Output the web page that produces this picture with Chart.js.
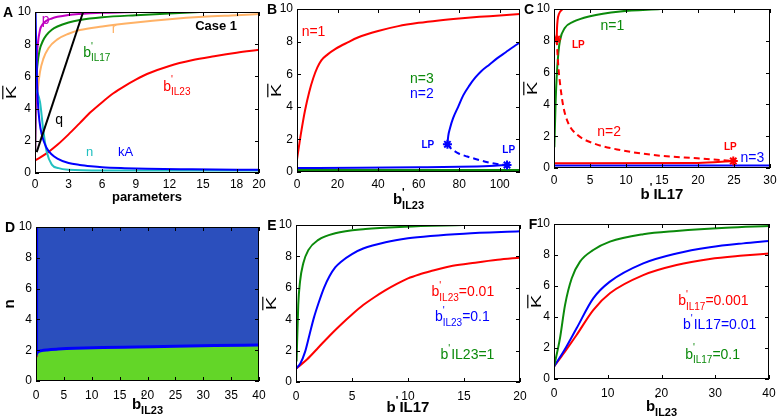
<!DOCTYPE html>
<html>
<head>
<meta charset="utf-8">
<script src="https://cdn.jsdelivr.net/npm/chart.js@4.4.1/dist/chart.umd.min.js"></script>
<style>
html, body { margin: 0; padding: 0; background: #fff; }
#wrap { position: relative; width: 777px; height: 418px; overflow: hidden; }
#wrap canvas { position: absolute; }
</style>
</head>
<body>
<div id="wrap"></div>
<script>
// ---- data: [x, y] pairs ----
var yTicks = [0, 2, 4, 6, 8, 10];

// A: K vs parameters
var aTicksX = [0, 3, 6, 9, 12, 15, 18, 20];
var aP = [[0.02,1.3],[0.05,3],[0.1,5.5],[0.15,7],[0.25,8],[0.45,8.9],[0.7,9.25],[1,9.45],[1.5,9.6],[2,9.7],[3,9.82],[4,9.88],[6,9.95],[8,9.98],[9.5,10]];
var aBIL17 = [[0.02,1.3],[0.05,3.5],[0.1,5.5],[0.2,6.6],[0.4,7.6],[0.7,8.2],[1,8.55],[1.5,8.9],[2,9.1],[3,9.35],[4,9.5],[6,9.67],[9,9.8],[12,9.9],[14.7,10]];
var aR = [[0.15,4],[0.25,5.2],[0.45,6.3],[0.75,7.1],[1.2,7.75],[2,8.3],[3,8.65],[4,8.88],[6,9.1],[9,9.35],[12,9.55],[15,9.7],[18,9.8],[20,9.87]];
var aBIL23 = [[0,0.78],[1,1.2],[2,1.75],[3,2.4],[4,3.1],[5,3.8],[6,4.4],[7,4.95],[8,5.4],[9,5.8],[10,6.15],[12,6.65],[14,7.0],[16,7.25],[18,7.47],[20,7.65]];
var aQ = [[0.15,1.3],[4.3,10]];
var aN = [[0,5.2],[0.2,5.0],[0.45,4.4],[0.75,2.6],[1.05,1.3],[1.5,0.52],[2.1,0.3],[3,0.2],[6,0.15],[20,0.15]];
var aKA = [[0.05,10],[0.1,8],[0.15,6.5],[0.25,4.5],[0.4,3.2],[0.6,2.4],[1,1.6],[1.5,1.15],[2,0.9],[3,0.62],[4,0.5],[5,0.42],[6,0.36],[8,0.3],[10,0.26],[14,0.23],[20,0.2]];

// B: K vs b'IL23
var bTicksX = [0, 20, 40, 60, 80, 100];
var bN1 = [[0,0.78],[1,1.6],[2,2.4],[4,3.8],[6,4.9],[8,5.75],[10,6.4],[12,6.85],[15,7.2],[19,7.55],[25,7.95],[30,8.25],[40,8.65],[50,8.95],[60,9.15],[70,9.3],[80,9.42],[90,9.52],[100,9.6],[110,9.7]];
var bN2Low = [[0,0.25],[30,0.26],[60,0.29],[80,0.32],[95,0.37],[103.6,0.43]];
var bN2Dash = [[74.2,1.7],[75.5,1.5],[77.5,1.3],[80,1.12],[84,0.95],[88,0.8],[94,0.6],[98,0.5],[103.6,0.43]];
var bN2Up = [[74.2,1.7],[74.6,2.2],[75.5,2.7],[77,3.3],[79.5,4.0],[82,4.7],[85,5.3],[88,5.8],[91,6.2],[95,6.6],[99,7.0],[103,7.35],[107,7.7],[110,7.95]];
var bN3 = [[0,0.12],[110,0.12]];
var bLP = [[74.2,1.7],[103.6,0.43]];

// C: K vs b'IL17
var cTicksX = [0, 5, 10, 15, 20, 25, 30];
var cN1 = [[0.05,1.3],[0.23,4.2],[0.37,5.7],[0.6,7.2],[0.84,8.05],[1.5,8.8],[2.7,9.2],[5,9.55],[9.2,9.85],[14.8,10]];
var cN2Up = [[0.37,8.1],[0.42,8.8],[0.5,9.3],[0.7,9.7],[1.2,10]];
var cN2Dash = [[0.37,8.1],[0.6,6.4],[0.84,5.3],[1.3,3.86],[2,2.8],[3.2,2.1],[5.5,1.55],[9.2,1.13],[14.8,0.77],[19.9,0.61],[24.9,0.44]];
var cN2Low = [[0,0.3],[20,0.32],[24.9,0.44]];
var cN3 = [[0,0.15],[30,0.15]];
var cLP = [[0.37,8.1],[24.9,0.44]];

// D: n vs b'IL23 (two regions)
var dTicksX = [0, 5, 10, 15, 20, 25, 30, 35, 40];
var dBoundary = [[0,1.6],[0.15,1.8],[0.4,1.9],[1,1.97],[2,2.02],[4,2.07],[7,2.12],[12,2.17],[18,2.21],[25,2.26],[32,2.3],[40,2.33]];
var dVertical = [[0.1,1.75],[0.1,10]];
var dTop = [[0,10],[40,10]];
var dCusp = [[0,1.6]];

// E: K vs b'IL17
var eTicksX = [0, 5, 10, 15, 20];
var eG = [[0.05,1.3],[0.2,4.9],[0.36,6.4],[0.65,7.56],[1.1,8.4],[2,9.05],[3.5,9.47],[6.2,9.74],[9.7,9.89],[14.9,10]];
var eB = [[0,0.85],[0.4,1.2],[0.8,1.9],[1.2,3.0],[1.6,4.1],[2,5.0],[2.5,6.0],[3,6.75],[3.5,7.3],[4,7.65],[5,8.15],[6,8.5],[8,8.9],[10,9.15],[12,9.3],[15,9.45],[20,9.6]];
var eR = [[0,0.85],[1,1.45],[2,2.2],[3,2.95],[4,3.65],[5,4.3],[6,4.9],[7,5.4],[8,5.85],[9,6.25],[10,6.6],[11,6.85],[12,7.05],[14,7.4],[16,7.6],[18,7.78],[20,7.92]];

// F: K vs b'IL23
var fTicksX = [0, 10, 20, 30, 40];
var fG = [[0,0.8],[1.1,2.6],[2.05,4.77],[3.3,6.5],[4.84,7.57],[7.3,8.32],[10.4,8.86],[16.6,9.34],[22.8,9.55],[32,9.76],[40,9.87]];
var fB = [[0,0.8],[2,1.9],[4.2,3.27],[7.3,5.2],[10.4,6.28],[16.6,7.46],[22.8,8.1],[29,8.5],[35.2,8.75],[40,8.9]];
var fR = [[0,0.8],[2,1.75],[4.2,2.84],[7.3,4.45],[10.4,5.53],[16.6,6.7],[22.8,7.35],[29,7.74],[35.2,7.96],[40,8.1]];

// ---- styling ----
var FONT = '"Liberation Sans", Arial, Helvetica, sans-serif';
var RED = '#ff0000', BLUE = '#0000ff', GREEN = '#0b8a0b', MAGENTA = '#c000c0',
    ORANGE = '#ffb266', CYAN = '#22c0c0', BLACK = '#000000',
    FILL_BLUE = '#2b4fbd', FILL_GREEN = '#63d628';

// text pieces: b' with stacked sub, or b' followed by plain text
function bSub(sub, rest) {
  var s = [['b', 'n'], ["'", 'pre'], [sub, 'sub']];
  if (rest) s.push([rest, 'n']);
  return s;
}
function bFlat(txt) { return [['b', 'n'], ["'", 'sup'], [txt, 'n']]; }
function plain(t) { return [[t, 'n']]; }

function drawRich(ctx, x, y, segs, size, bold, color, align) {
  var small = Math.round(size * 0.72);
  var f = function (s) { return (bold ? 'bold ' : '') + s + 'px ' + FONT; };
  var items = [], cx = 0;
  segs.forEach(function (sg) {
    var t = sg[0], m = sg[1];
    var s = m === 'n' ? size : small;
    ctx.font = f(s);
    var w = ctx.measureText(t).width;
    var dy = m === 'sub' ? size * 0.4 : (m === 'n' ? 0 : -size * 0.45);
    items.push({ t: t, s: s, x: cx, dy: dy });
    if (m === 'sup') cx += w + 1;
    else if (m !== 'pre') cx += w;
  });
  var x0 = align === 'center' ? x - cx / 2 : x;
  ctx.save();
  ctx.fillStyle = color;
  ctx.textBaseline = 'middle';
  ctx.textAlign = 'left';
  items.forEach(function (it) {
    ctx.font = f(it.s);
    ctx.fillText(it.t, x0 + it.x, y + it.dy);
  });
  ctx.restore();
}

function drawKbar(ctx, x, y) {
  ctx.save();
  ctx.translate(x, y);
  ctx.rotate(-Math.PI / 2);
  ctx.scale(1.45, 1);
  ctx.font = '14px ' + FONT;
  ctx.fillStyle = '#000';
  ctx.textAlign = 'center';
  ctx.textBaseline = 'alphabetic';
  var w = ctx.measureText('K').width;
  ctx.fillText('K', 0, 5);
  ctx.fillRect(-w / 2, -8.8, w, 1.2);
  ctx.restore();
}

var decor = {
  id: 'decor',
  afterDraw: function (chart, args, o) {
    var ctx = chart.ctx, a = chart.chartArea, xs = chart.scales.x, ys = chart.scales.y;
    ctx.save();
    ctx.strokeStyle = '#000';
    ctx.lineWidth = 1;
    ctx.strokeRect(a.left + 0.5, a.top + 0.5, a.right - a.left - 1, a.bottom - a.top - 1);
    ctx.beginPath();
    xs.ticks.forEach(function (t) {
      var px = Math.round(xs.getPixelForValue(t.value)) + 0.5;
      ctx.moveTo(px, a.bottom); ctx.lineTo(px, a.bottom - 4);
      ctx.moveTo(px, a.top); ctx.lineTo(px, a.top + 4);
    });
    ys.ticks.forEach(function (t) {
      var py = Math.round(ys.getPixelForValue(t.value)) + 0.5;
      ctx.moveTo(a.left, py); ctx.lineTo(a.left + 4, py);
      ctx.moveTo(a.right, py); ctx.lineTo(a.right - 4, py);
    });
    ctx.stroke();
    ctx.restore();

    drawRich(ctx, a.left - o.letterDx, a.top + 1, plain(o.letter), 14, true, '#000', 'center');
    drawRich(ctx, (a.left + a.right) / 2, a.bottom + o.xTitleDy, o.xTitle, o.xTitleSize || 15, true, '#000', 'center');
    var my = (a.top + a.bottom) / 2;
    if (o.yTitle === 'K') {
      drawKbar(ctx, a.left - o.yTitleDx, my);
    } else {
      ctx.save();
      ctx.translate(a.left - o.yTitleDx, my);
      ctx.rotate(-Math.PI / 2);
      drawRich(ctx, 0, 0, plain(o.yTitle), 15, true, '#000', 'center');
      ctx.restore();
    }
    (o.labels || []).forEach(function (l) {
      drawRich(ctx, xs.getPixelForValue(l.x), ys.getPixelForValue(l.y), l.segs,
               l.size || 14, !!l.bold, l.color, 'left');
    });
  }
};

function toXY(pts) { return pts.map(function (p) { return { x: p[0], y: p[1] }; }); }
function line(pts, color, extra) {
  var d = {
    data: toXY(pts), showLine: true, borderColor: color, backgroundColor: color,
    borderWidth: 2, pointRadius: 0, fill: false
  };
  if (pts.length > 2) d.cubicInterpolationMode = 'monotone';
  return Object.assign(d, extra || {});
}
function marks(pts, color) {
  return {
    data: toXY(pts), showLine: false, pointStyle: 'star', pointRadius: 4.5,
    borderWidth: 2, borderColor: color, backgroundColor: color
  };
}
var DASH = { borderDash: [6, 4] };

var wrap = document.getElementById('wrap');

function panel(box, cfg) {
  var L = box[0], T = box[1], R = box[2], B = box[3];
  var ml = Math.min(40, L), mt = Math.min(14, T), mr = Math.min(12, 777 - R), mb = Math.min(46, 418 - B);
  var W = R - L + ml + mr, H = B - T + mt + mb;
  var cv = document.createElement('canvas');
  cv.width = W; cv.height = H;
  cv.style.left = (L - ml) + 'px'; cv.style.top = (T - mt) + 'px';
  cv.style.width = W + 'px'; cv.style.height = H + 'px';
  wrap.appendChild(cv);
  var tickFont = { family: FONT, size: 12 };
  new Chart(cv, {
    type: 'scatter',
    data: { datasets: cfg.datasets },
    options: {
      responsive: false, animation: false, devicePixelRatio: 1,
      layout: { padding: { top: mt, right: mr, left: 0, bottom: 0 } },
      plugins: { legend: { display: false }, tooltip: { enabled: false }, decor: cfg.decor },
      scales: {
        x: {
          type: 'linear', min: cfg.xMin || 0, max: cfg.xMax,
          grid: { display: false, drawTicks: false }, border: { display: false },
          ticks: { color: '#000', font: tickFont, padding: cfg.xPad, maxRotation: 0, minRotation: 0, autoSkip: false },
          afterBuildTicks: function (s) { s.ticks = cfg.xTicks.map(function (v) { return { value: v }; }); },
          afterFit: function (s) { s.height = mb; s.paddingLeft = 0; s.paddingRight = 0; }
        },
        y: {
          type: 'linear', min: 0, max: 10,
          grid: { display: false, drawTicks: false }, border: { display: false },
          ticks: { color: '#000', font: tickFont, padding: 4 },
          afterBuildTicks: function (s) { s.ticks = yTicks.map(function (v) { return { value: v }; }); },
          afterFit: function (s) { s.width = ml; s.paddingTop = 0; s.paddingBottom = 0; }
        }
      }
    },
    plugins: [decor]
  });
}

// A
panel([35, 12, 259, 173], {
  xMax: 20, xTicks: aTicksX, xPad: 4,
  datasets: [
    line(aQ, BLACK), line(aKA, BLUE), line(aN, CYAN), line(aP, MAGENTA),
    line(aBIL17, GREEN), line(aR, ORANGE), line(aBIL23, RED)
  ],
  decor: {
    letter: 'A', letterDx: 27, xTitle: plain('parameters'), xTitleSize: 13, xTitleDy: 24,
    yTitle: 'K', yTitleDx: 24,
    labels: [
      { x: 0.6, y: 9.5, segs: plain('p'), color: MAGENTA },
      { x: 6.85, y: 8.95, segs: plain('r'), color: ORANGE },
      { x: 4.3, y: 7.45, segs: bSub('IL17'), color: GREEN },
      { x: 14.3, y: 9.1, segs: plain('Case 1'), color: BLACK, bold: true, size: 13 },
      { x: 11.45, y: 5.35, segs: bSub('IL23'), color: RED },
      { x: 1.8, y: 3.3, segs: plain('q'), color: BLACK },
      { x: 4.55, y: 1.3, segs: plain('n'), color: CYAN, size: 13 },
      { x: 7.4, y: 1.3, segs: plain('kA'), color: BLUE, size: 13 }
    ]
  }
});

// B
panel([297, 9, 520, 172], {
  xMax: 110, xTicks: bTicksX, xPad: 5,
  datasets: [
    marks(bLP, BLUE),
    line(bN2Low, BLUE), line(bN2Dash, BLUE, DASH), line(bN2Up, BLUE),
    line(bN3, GREEN), line(bN1, RED)
  ],
  decor: {
    letter: 'B', letterDx: 25, xTitle: bSub('IL23'), xTitleDy: 28, yTitle: 'K', yTitleDx: 21,
    labels: [
      { x: 2.3, y: 8.6, segs: plain('n=1'), color: RED },
      { x: 55.7, y: 5.7, segs: plain('n=3'), color: GREEN },
      { x: 55.7, y: 4.8, segs: plain('n=2'), color: BLUE },
      { x: 61.4, y: 1.65, segs: plain('LP'), color: BLUE, bold: true, size: 10 },
      { x: 101.3, y: 1.35, segs: plain('LP'), color: BLUE, bold: true, size: 10 }
    ]
  }
});

// C
panel([554, 9, 770, 168], {
  xMax: 30, xTicks: cTicksX, xPad: 5,
  datasets: [
    marks(cLP, RED),
    line(cN2Up, RED), line(cN2Dash, RED, DASH), line(cN2Low, RED),
    line(cN3, BLUE), line(cN1, GREEN)
  ],
  decor: {
    letter: 'C', letterDx: 25, xTitle: bFlat('IL17'), xTitleDy: 27, yTitle: 'K', yTitleDx: 22,
    labels: [
      { x: 6.45, y: 8.9, segs: plain('n=1'), color: GREEN },
      { x: 2.5, y: 7.7, segs: plain('LP'), color: RED, bold: true, size: 10 },
      { x: 6.0, y: 2.27, segs: plain('n=2'), color: RED },
      { x: 23.6, y: 1.3, segs: plain('LP'), color: RED, bold: true, size: 10 },
      { x: 25.9, y: 0.6, segs: plain('n=3'), color: BLUE }
    ]
  }
});

// D
panel([36, 227, 259, 381], {
  xMax: 40, xTicks: dTicksX, xPad: 7,
  datasets: [
    { data: toXY(dCusp), showLine: false, pointRadius: 1.5, borderWidth: 0, backgroundColor: RED },
    line(dBoundary, BLUE, { borderWidth: 3, fill: 'origin', backgroundColor: FILL_GREEN }),
    line(dVertical, BLUE, { borderWidth: 3 }),
    line(dTop, FILL_BLUE, { borderWidth: 0, fill: 'origin', backgroundColor: FILL_BLUE })
  ],
  decor: {
    letter: 'D', letterDx: 26, xTitle: bSub('IL23'), xTitleDy: 24, yTitle: 'n', yTitleDx: 26
  }
});

// E
panel([296, 225, 520, 382], {
  xMax: 20, xTicks: eTicksX, xPad: 7,
  datasets: [line(eG, GREEN), line(eB, BLUE), line(eR, RED)],
  decor: {
    letter: 'E', letterDx: 24, xTitle: bFlat('IL17'), xTitleDy: 26, yTitle: 'K', yTitleDx: 25,
    labels: [
      { x: 12.1, y: 5.7, segs: bSub('IL23', '=0.01'), color: RED },
      { x: 12.4, y: 4.1, segs: bSub('IL23', '=0.1'), color: BLUE },
      { x: 12.9, y: 1.7, segs: bFlat('IL23=1'), color: GREEN }
    ]
  }
});

// F
panel([554, 224, 769, 379], {
  xMax: 40, xTicks: fTicksX, xPad: 7,
  datasets: [line(fG, GREEN), line(fB, BLUE), line(fR, RED)],
  decor: {
    letter: 'F', letterDx: 21, xTitle: bSub('IL23'), xTitleDy: 28, yTitle: 'K', yTitleDx: 18,
    labels: [
      { x: 23.1, y: 5.0, segs: bSub('IL17', '=0.001'), color: RED },
      { x: 24.0, y: 3.48, segs: bFlat('IL17=0.01'), color: BLUE },
      { x: 24.4, y: 1.55, segs: bSub('IL17', '=0.1'), color: GREEN }
    ]
  }
});
</script>
</body>
</html>
